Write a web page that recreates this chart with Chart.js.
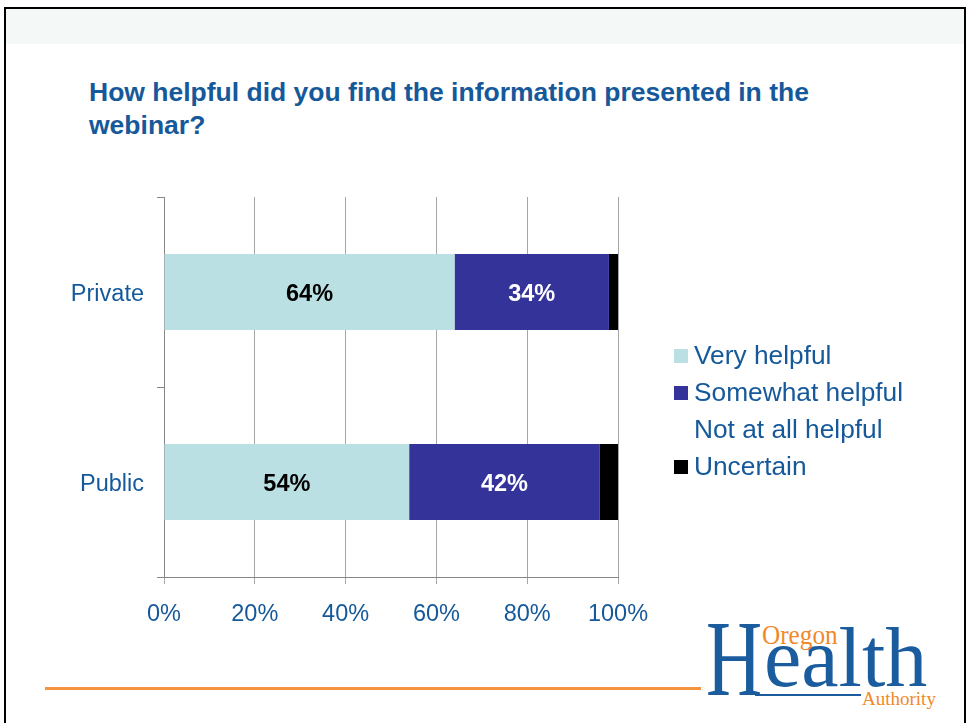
<!DOCTYPE html>
<html>
<head>
<meta charset="utf-8">
<script src="https://cdn.jsdelivr.net/npm/chart.js@4.4.1/dist/chart.umd.min.js"></script>
<style>
  html, body { margin: 0; padding: 0; background: #fff; }
  body { width: 967px; height: 723px; position: relative; overflow: hidden; font-family: "Liberation Sans", Arial, sans-serif; }
  #frame { position: absolute; left: 4px; top: 7px; width: 958px; height: 760px; border: 2px solid #000; }
  #band { position: absolute; left: 6px; top: 9px; width: 958px; height: 35px; background: #f4f8f7; }
  #title { position: absolute; left: 89px; top: 76px; font-weight: bold; font-size: 26.5px; line-height: 33px; color: #16599a; white-space: nowrap; }
  #rule { position: absolute; left: 45px; top: 687px; width: 656px; height: 3px; background: #f49440; }
  .logo { position: absolute; font-family: "Liberation Serif", "DejaVu Serif", serif; white-space: nowrap; line-height: 1; transform-origin: 0 0; }
  #logoH { left: 706px; top: 605px; font-size: 108px; color: #1a5c9e; transform: scaleX(0.72); }
  #logoRest { left: 764px; top: 616px; font-size: 84px; color: #1a5c9e; }
  #logoBar { position: absolute; left: 755px; top: 694px; width: 106px; height: 2px; background: #1a5c9e; }
  #logoOregon { left: 762px; top: 621px; font-size: 28px; color: #f0892a; transform: scaleX(0.9); }
  #logoAuth { left: 862px; top: 689px; font-size: 19px; color: #f0892a; }
  canvas { position: absolute; left: 0; top: 0; }
</style>
</head>
<body>
<div id="frame"></div>
<div id="band"></div>
<div id="title">How helpful did you find the information presented in the<br>webinar?</div>
<div id="rule"></div>
<div id="logoH" class="logo">H</div>
<div id="logoRest" class="logo">ealth</div>
<div id="logoBar"></div>
<div id="logoOregon" class="logo">Oregon</div>
<div id="logoAuth" class="logo">Authority</div>
<canvas id="chart" width="967" height="723"></canvas>
<script>
// survey answers, percent of respondents
const categories = ['Private', 'Public'];
const veryHelpful = [64, 54];
const somewhatHelpful = [34, 42];
const notAtAllHelpful = [0, 0];
const uncertain = [2, 4];
const xTicks = [0, 20, 40, 60, 80, 100];

const blue = '#16599a';
const fontFamily = '"Liberation Sans", Arial, sans-serif';

// percentage text in the middle of the two big segments
const barLabels = {
    id: 'barLabels',
    afterDatasetsDraw(chart) {
        const ctx = chart.ctx;
        ctx.save();
        ctx.font = 'bold 23.5px ' + fontFamily;
        ctx.textAlign = 'center';
        ctx.textBaseline = 'middle';
        chart.data.datasets.forEach((ds, i) => {
            if (!ds.labelColor) {
                return;
            }
            ctx.fillStyle = ds.labelColor;
            chart.getDatasetMeta(i).data.forEach((bar, j) => {
                ctx.fillText(ds.data[j] + '%', (bar.x + bar.base) / 2, bar.y + 3);
            });
        });
        ctx.restore();
    }
};

// legend to the right of the plot, drawn like the slide's one
const sideLegend = {
    id: 'sideLegend',
    afterDraw(chart) {
        const {ctx, chartArea} = chart;
        const x = chartArea.right + 56;
        let y = chartArea.top + 159;
        ctx.save();
        ctx.font = '26.3px ' + fontFamily;
        ctx.textAlign = 'left';
        ctx.textBaseline = 'middle';
        chart.data.datasets.forEach(ds => {
            ctx.fillStyle = ds.backgroundColor;
            ctx.fillRect(x, y - 7, 14, 14);
            ctx.fillStyle = blue;
            ctx.fillText(ds.label, x + 20, y + 1);
            y += 37;
        });
        ctx.restore();
    }
};

new Chart(document.getElementById('chart'), {
    type: 'bar',
    data: {
        labels: categories,
        datasets: [
            {label: 'Very helpful', data: veryHelpful, backgroundColor: '#bae0e3', labelColor: '#000'},
            {label: 'Somewhat helpful', data: somewhatHelpful, backgroundColor: '#343399', labelColor: '#fff'},
            {label: 'Not at all helpful', data: notAtAllHelpful, backgroundColor: '#ffffff'},
            {label: 'Uncertain', data: uncertain, backgroundColor: '#000000'}
        ]
    },
    options: {
        indexAxis: 'y',
        responsive: false,
        animation: false,
        devicePixelRatio: 1,
        barPercentage: 0.4,
        categoryPercentage: 1,
        layout: {padding: {left: 44, top: 197, right: 349, bottom: 86}},
        plugins: {
            legend: {display: false},
            title: {display: false},
            tooltip: {enabled: false}
        },
        scales: {
            x: {
                stacked: true,
                min: 0,
                max: 100,
                afterBuildTicks: s => { s.ticks = xTicks.map(v => ({value: v})); },
                afterFit: s => { s.height = 60; },
                grid: {color: '#a6a6a6', tickLength: 7},
                border: {color: '#868686'},
                ticks: {
                    color: blue,
                    font: {family: fontFamily, size: 23.5},
                    padding: 16,
                    maxRotation: 0,
                    autoSkip: false,
                    callback: v => v + '%'
                }
            },
            y: {
                stacked: true,
                afterFit: s => { s.width = 120; },
                grid: {drawOnChartArea: false, color: '#868686', tickLength: 7},
                border: {color: '#868686'},
                ticks: {
                    color: blue,
                    font: {family: fontFamily, size: 23.5},
                    padding: 13,
                    labelOffset: 3
                }
            }
        }
    },
    plugins: [barLabels, sideLegend]
});
</script>
</body>
</html>
